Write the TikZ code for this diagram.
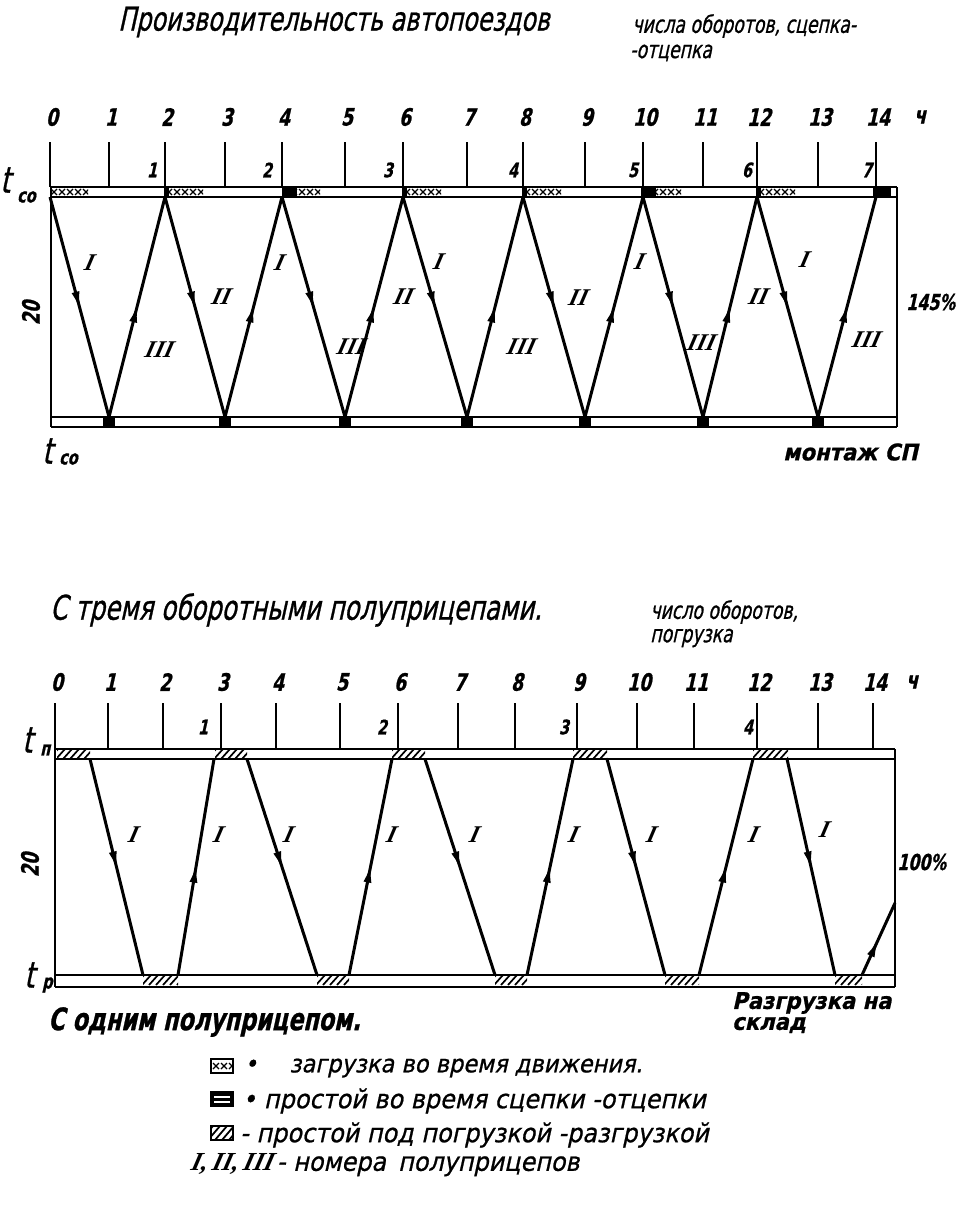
\documentclass[tikz,border=0pt]{standalone}
\usepackage{fontspec}
\setmainfont{DejaVu Sans}[FakeStretch=0.72,FakeSlant=0.22,FakeBold=0.8]
\newfontfamily\widef{DejaVu Sans}[FakeStretch=0.92,FakeSlant=0.22,FakeBold=0.8]
\newfontfamily\romf{Liberation Serif}[FakeSlant=0.25]
\usetikzlibrary{decorations.markings,arrows.meta}
\newcommand{\crossrow}[3]{%
  \begin{scope}
    \clip (#1,#3) rectangle (#2,#3+10);
    \foreach \k in {0,8,...,48}{\draw[line width=1.3pt] (#1+\k+1,#3+2) -- ++(6,6) (#1+\k+1,#3+8) -- ++(6,-6);}
  \end{scope}}
\newcommand{\hatchrow}[3]{%
  \begin{scope}
    \clip (#1,#3) rectangle (#2,#3+10);
    \foreach \k in {-8,-1,...,48}{\draw[line width=1.7pt] (#1+\k,#3+10) -- ++(9,-10);}
  \end{scope}}
\tikzset{
  trip/.style={line width=3pt, postaction={decorate},
    decoration={markings, mark=at position 0.52 with {\arrow{Latex[length=20pt,width=8pt]}}}},
  rail/.style={line width=2.6pt},
  tk/.style={line width=1.5pt},
  lbl/.style={inner sep=0pt, font=\bfseries\fontsize{24}{24}\selectfont},
  cnt/.style={inner sep=0pt, font=\bfseries\fontsize{20}{20}\selectfont},
  rom/.style={inner sep=0pt, font=\romf\bfseries\itshape\fontsize{24}{24}\selectfont},
  ttl/.style={inner sep=0pt, anchor=west, font=\fontsize{33}{33}\selectfont},
  note/.style={inner sep=0pt, anchor=west, font=\fontsize{24}{24}\selectfont},
  bnote/.style={inner sep=0pt, anchor=west, font=\widef\bfseries\fontsize{23}{23}\selectfont},
  leg/.style={inner sep=0pt, anchor=west, font=\widef\fontsize{26}{26}\selectfont},
  tbig/.style={inner sep=0pt, anchor=west, font=\fontsize{36}{36}\selectfont},
  tsub/.style={inner sep=0pt, anchor=west, font=\bfseries\fontsize{20}{20}\selectfont},
}
\begin{document}
\begin{tikzpicture}[x=1pt,y=-1pt]
\useasboundingbox (0,0) rectangle (958,1212);

% ---------------- top chart ----------------
\node[ttl] (title1) at (118,22) {Производительность автопоездов};
\node[note] (n1a) at (632,26) {числа оборотов, сцепка-};
\node[note] (n1b) at (630,53) {-отцепка};

\foreach \x [count=\i from 0] in {50,109,165,225,282,345,403,467,523,585,643,703,757,818,876} {
  \draw[tk] (\x,142) -- (\x,187);
  \node[lbl] (th\i) at (\x+2,117) {\i};
  \coordinate (A\i) at (\x,197);
  \coordinate (B\i) at (\x,417);
}
\node[lbl] (thu) at (920,117) {ч};

\foreach \x in {50,165,282,403,523,643,757} {\crossrow{\x}{\x+38}{187}}
\foreach \x in {165,403,523,757} {\fill (\x-1,187) rectangle (\x+4,197);}
\fill (282,187) rectangle (297,197);
\fill (641,187) rectangle (656,197);
\fill (873,187) rectangle (891,197);

\draw[rail] (50,187) -- (897,187);
\draw[rail] (50,197) -- (897,197);
\draw[rail] (51,417) -- (897,417);
\draw[rail] (51,427) -- (897,427);
\draw[rail] (51,187) -- (51,427);
\draw[rail] (897,187) -- (897,427);

\foreach \i in {1,3,...,13} {\fill (B\i) ++(-6,0) rectangle ++(12,10);}

\draw[trip] (A0) -- (B1);
\draw[trip] (B1) -- (A2);
\draw[trip] (A2) -- (B3);
\draw[trip] (B3) -- (A4);
\draw[trip] (A4) -- (B5);
\draw[trip] (B5) -- (A6);
\draw[trip] (A6) -- (B7);
\draw[trip] (B7) -- (A8);
\draw[trip] (A8) -- (B9);
\draw[trip] (B9) -- (A10);
\draw[trip] (A10) -- (B11);
\draw[trip] (B11) -- (A12);
\draw[trip] (A12) -- (B13);
\draw[trip] (B13) -- (A14);

\node[cnt] (c1) at (152,170) {1};
\node[cnt] (c2) at (267,170) {2};
\node[cnt] (c3) at (388,170) {3};
\node[cnt] (c4) at (513,170) {4};
\node[cnt] (c5) at (633,170) {5};
\node[cnt] (c6) at (747,170) {6};
\node[cnt] (c7) at (867,170) {7};

\node[rom] (r1) at (88,263) {I};
\node[rom] (r2) at (158,350) {III};
\node[rom] (r3) at (220,297) {II};
\node[rom] (r4) at (278,263) {I};
\node[rom] (r5) at (350,347) {III};
\node[rom] (r6) at (402,297) {II};
\node[rom] (r7) at (437,262) {I};
\node[rom] (r8) at (520,347) {III};
\node[rom] (r9) at (577,298) {II};
\node[rom] (r10) at (638,262) {I};
\node[rom] (r11) at (700,343) {III};
\node[rom] (r12) at (757,297) {II};
\node[rom] (r13) at (803,260) {I};
\node[rom] (r14) at (865,340) {III};

\node[inner sep=0pt, rotate=90, font=\bfseries\fontsize{24}{24}\selectfont] (v20a) at (31,313) {20};
\node[bnote, font=\bfseries\fontsize{22}{22}\selectfont] (p145) at (906,302) {145\%};
\node[tbig] (tco1) at (0,180) {t};
\node[tsub] (tco1s) at (17,197) {со};
\node[tbig] (tco2) at (42,451) {t};
\node[tsub] (tco2s) at (59,459) {со};
\node[bnote] (mont) at (783,452) {монтаж СП};

% ---------------- bottom chart ----------------
\node[ttl, font=\fontsize{34}{34}\selectfont] (title2) at (50,610) {С тремя оборотными полуприцепами.};
\node[note] (n2a) at (650,612) {число оборотов,};
\node[note] (n2b) at (650,638) {погрузка};

\foreach \x [count=\i from 0] in {55,108,163,221,276,340,398,458,515,577,637,694,757,818,873} {
  \draw[tk] (\x,703) -- (\x,749);
  \node[lbl] (bh\i) at (\x+2,682) {\i};
}
\node[lbl] (bhu) at (912,682) {ч};

\hatchrow{57}{90}{749}
\hatchrow{215}{247}{749}
\hatchrow{392}{425}{749}
\hatchrow{573}{607}{749}
\hatchrow{753}{788}{749}
\hatchrow{143}{178}{975}
\hatchrow{317}{349}{975}
\hatchrow{495}{527}{975}
\hatchrow{665}{699}{975}
\hatchrow{835}{862}{975}

\draw[rail] (55,749) -- (895,749);
\draw[rail] (55,759) -- (895,759);
\draw[rail] (55,975) -- (895,975);
\draw[rail] (55,987) -- (895,987);
\draw[rail] (55,749) -- (55,987);
\draw[rail] (895,749) -- (895,987);

\coordinate (q1) at (90,759);
\coordinate (r1b) at (143,975);
\coordinate (r2b) at (178,975);
\coordinate (q2) at (214,759);
\coordinate (q3) at (247,759);
\coordinate (r3b) at (317,975);
\coordinate (r4b) at (349,975);
\coordinate (q4) at (392,759);
\coordinate (q5) at (425,759);
\coordinate (r5b) at (495,975);
\coordinate (r6b) at (527,975);
\coordinate (q6) at (573,759);
\coordinate (q7) at (607,759);
\coordinate (r7b) at (665,975);
\coordinate (r8b) at (699,975);
\coordinate (q8) at (753,759);
\coordinate (q9) at (787,759);
\coordinate (r9b) at (835,975);
\coordinate (r10b) at (862,975);
\coordinate (qe) at (895,903);

\draw[trip] (q1) -- (r1b);
\draw[trip] (r2b) -- (q2);
\draw[trip] (q3) -- (r3b);
\draw[trip] (r4b) -- (q4);
\draw[trip] (q5) -- (r5b);
\draw[trip] (r6b) -- (q6);
\draw[trip] (q7) -- (r7b);
\draw[trip] (r8b) -- (q8);
\draw[trip] (q9) -- (r9b);
\draw[trip] (r10b) -- (qe);

\node[cnt] (d1) at (203,727) {1};
\node[cnt] (d2) at (382,727) {2};
\node[cnt] (d3) at (564,727) {3};
\node[cnt] (d4) at (748,727) {4};

\node[rom] (s1) at (132,835) {I};
\node[rom] (s2) at (217,835) {I};
\node[rom] (s3) at (287,835) {I};
\node[rom] (s4) at (390,835) {I};
\node[rom] (s5) at (473,835) {I};
\node[rom] (s6) at (572,835) {I};
\node[rom] (s7) at (650,835) {I};
\node[rom] (s8) at (752,835) {I};
\node[rom] (s9) at (823,830) {I};

\node[inner sep=0pt, rotate=90, font=\bfseries\fontsize{24}{24}\selectfont] (v20b) at (30,865) {20};
\node[bnote, font=\bfseries\fontsize{22}{22}\selectfont] (p100) at (897,862) {100\%};
\node[tbig] (tp) at (22,740) {t};
\node[tsub] (tps) at (40,750) {п};
\node[tbig] (tr) at (24,975) {t};
\node[tsub] (trs) at (42,985) {р};
\node[ttl, font=\bfseries\fontsize{31}{31}\selectfont] (one) at (48,1022) {С одним полуприцепом.};
\node[bnote] (unl1) at (732,1003) {Разгрузка на};
\node[bnote] (unl2) at (732,1025) {склад};

% ---------------- legend ----------------
\node[draw, line width=1.8pt, minimum width=22pt, minimum height=14pt, inner sep=0pt] (k1) at (222,1066) {};
\crossrow{212}{232}{1061}
\node[leg, font=\widef\fontsize{24.5}{24.5}\selectfont] (k1t) at (244,1068) {•\hspace{32pt}загрузка во время движения.};

\node[draw, fill=black, line width=1.8pt, minimum width=22pt, minimum height=14pt, inner sep=0pt] (k2) at (222,1099) {};
\draw[white, line width=1.2pt] (214,1097) -- (230,1097) (214,1102) -- (230,1102);
\node[leg] (k2t) at (242,1101) {• простой во время сцепки -отцепки};

\node[draw, line width=1.8pt, minimum width=22pt, minimum height=14pt, inner sep=0pt] (k3) at (222,1133) {};
\begin{scope}
  \clip (211,1126) rectangle (233,1140);
  \foreach \k in {-10,-3,...,24}{\draw[line width=1.8pt] (211+\k,1140) -- ++(12,-14);}
\end{scope}
\node[leg] (k3t) at (240,1135) {- простой под погрузкой -разгрузкой};
\node[leg] (k4t) at (190,1165) {{\romf\bfseries\itshape I,\,II,\,III}\,- номера\hspace{12pt}полуприцепов};

\end{tikzpicture}
\end{document}
